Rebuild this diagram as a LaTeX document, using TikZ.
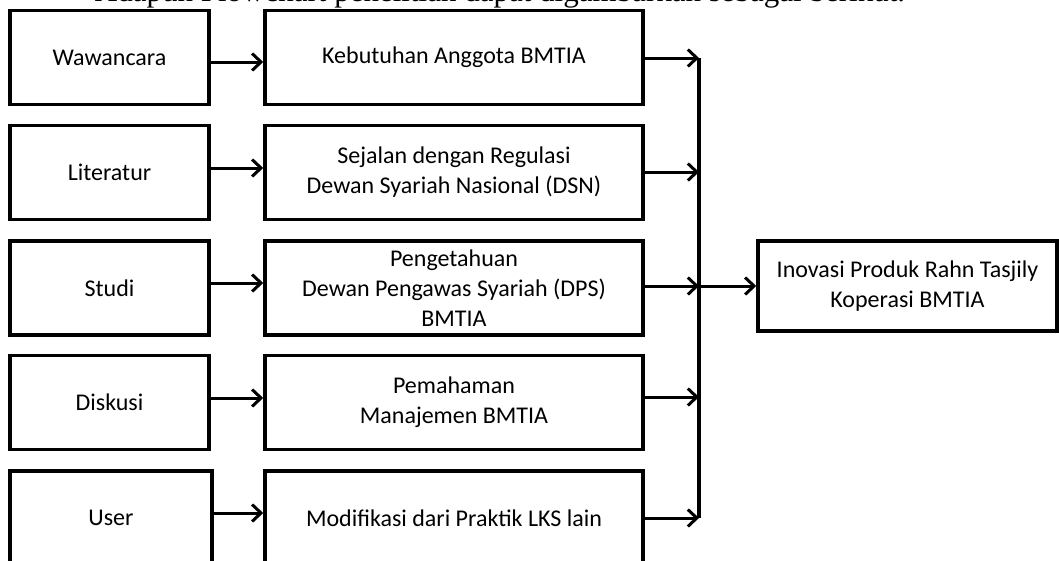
\documentclass[tikz,border=0pt]{standalone}
\usepackage{fontspec}
\setmainfont{Carlito}
\newfontfamily\serifx{Liberation Serif}
\usetikzlibrary{arrows.meta}
\tikzset{
  box/.style={draw=black, line width=3.5pt, fill=white, align=center, inner sep=0pt,
    font=\fontsize{24}{30}\selectfont},
  lbox/.style={box, minimum width=199pt, minimum height=94pt},
  mbox/.style={box, minimum width=378pt, minimum height=94pt},
  arr/.style={line width=3pt, -{Straight Barb[length=9pt,width=17pt,line width=3pt]}},
  busline/.style={line width=3.5pt}
}
\begin{document}
\begin{tikzpicture}[x=1pt,y=-1pt]
\useasboundingbox (0,0) rectangle (1059,560);
\clip (0,0) rectangle (1059,560);
\node[anchor=base, font=\serifx\fontsize{31}{36}\selectfont, inner sep=0pt] (title) at (500,1.5)
  {Adapun Flowchart penelitian dapat digambarkan sebagai berikut.};
% left boxes
\node[lbox] (l1) at (109.5,57.5) {Wawancara};
\node[lbox] (l2) at (109.5,172.5) {Literatur};
\node[lbox] (l3) at (109.5,288) {Studi};
\node[lbox] (l4) at (109.5,402.5) {Diskusi};
\node[lbox, minimum width=202pt] (l5) at (111,518) {User};
% middle boxes
\node[mbox] (m1) at (454,57.5) {Kebutuhan Anggota BMTIA};
\node[mbox] (m2) at (454,172.5) {Sejalan dengan Regulasi\\Dewan Syariah Nasional (DSN)};
\node[mbox] (m3) at (454,288) {Pengetahuan\\Dewan Pengawas Syariah (DPS)\\BMTIA};
\node[mbox] (m4) at (454,402.5) {Pemahaman\\Manajemen BMTIA};
\node[mbox] (m5) at (454,518) {Modifikasi dari Praktik LKS lain};
% right box
\node[box, minimum width=299pt, minimum height=90pt] (r) at (907.5,286)
  {Inovasi Produk Rahn Tasjily\\Koperasi BMTIA};
% bus
\coordinate (j1) at (699,58);
\coordinate (j2) at (699,172);
\coordinate (j3) at (699,286);
\coordinate (j4) at (699,397);
\coordinate (j5) at (699,518);
\draw[busline] (j1) -- (j5);
% left to middle arrows
\draw[arr] ([yshift=-4.5pt]l1.east) -- ([yshift=-4.5pt]m1.west);
\draw[arr] ([yshift=4.5pt]l2.east) -- ([yshift=4.5pt]m2.west);
\draw[arr] ([yshift=5pt]l3.east) -- ([yshift=5pt]m3.west);
\draw[arr] ([yshift=4.5pt]l4.east) -- ([yshift=4.5pt]m4.west);
\draw[arr] ([yshift=5pt,xshift=-3pt]l5.east) -- ([yshift=5pt]m5.west);
% middle to bus arrows
\draw[arr] (m1.east |- j1) -- (j1);
\draw[arr] (m2.east |- j2) -- (j2);
\draw[arr] (m3.east |- j3) -- (j3);
\draw[arr] (m4.east |- j4) -- (j4);
\draw[arr] (m5.east |- j5) -- (j5);
% bus to result
\draw[arr] (j3) -- (r.west |- j3);
\end{tikzpicture}
\end{document}
